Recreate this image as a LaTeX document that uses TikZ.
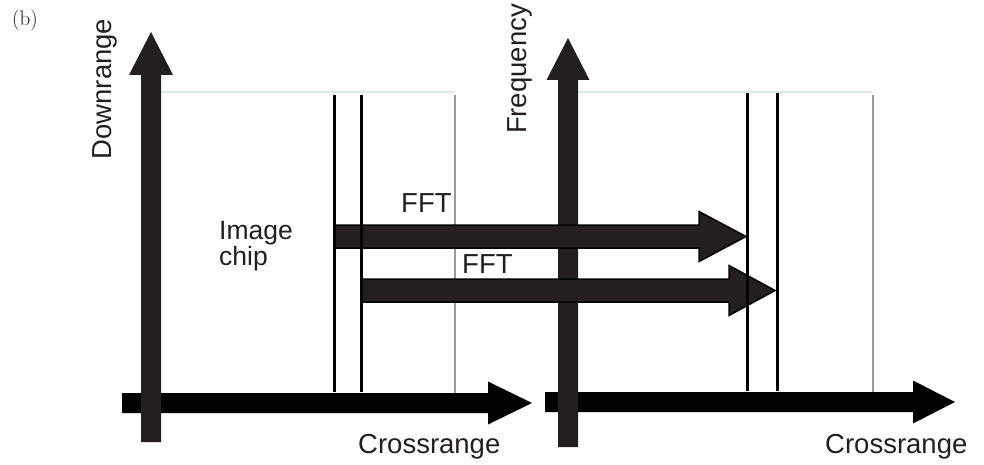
\documentclass[tikz,border=0pt]{standalone}
\usepackage{fontspec}
\newfontfamily\lab{Liberation Sans}
\definecolor{arrowgray}{HTML}{231F20}
\definecolor{edgegreen}{HTML}{DCEBE0}
\definecolor{edgegray}{HTML}{9A9A9A}
\begin{document}
\begin{tikzpicture}[x=1pt,y=-1pt,
  lbl/.style={font=\lab\fontsize{27.5}{24}\selectfont, text=arrowgray, inner sep=0pt},
  vblock/.style={fill=arrowgray, draw=none},
  hblock/.style={fill=black, draw=none},
  fftblock/.style={fill=arrowgray, draw=black, line width=1.5pt, line join=miter},
  topedge/.style={draw=edgegreen, line width=2pt},
  sideedge/.style={draw=edgegray, line width=1.3pt},
  chipline/.style={draw=black, line width=3pt}]
\useasboundingbox (0,0) rectangle (984,465);

% box edges
\coordinate (l-tl) at (161,92.5);
\coordinate (l-tr) at (454,92.5);
\coordinate (l-rt) at (455,95);
\coordinate (l-rb) at (455,393);
\draw[topedge] (l-tl) -- (l-tr);
\draw[sideedge] (l-rt) -- (l-rb);
\coordinate (r-tl) at (578,92.5);
\coordinate (r-tr) at (872,92.5);
\coordinate (r-rt) at (873,95);
\coordinate (r-rb) at (873,392);
\draw[topedge] (r-tl) -- (r-tr);
\draw[sideedge] (r-rt) -- (r-rb);

% bottom crossrange arrows
\fill[hblock] (122,393) -- (488,393) -- (488,381.5) -- (532,403) -- (488,424.5) -- (488,413) -- (122,413) -- cycle;
\fill[hblock] (545,392) -- (913,392) -- (913,380.5) -- (955,402) -- (913,423.5) -- (913,412) -- (545,412) -- cycle;

% vertical arrows
\fill[vblock] (141,442) -- (141,75) -- (129,75) -- (151,32) -- (173,75) -- (161,75) -- (161,442) -- cycle;
\fill[vblock] (558,447) -- (558,80) -- (546.5,80) -- (568,38) -- (589.5,80) -- (578,80) -- (578,447) -- cycle;

% FFT arrows
\filldraw[fftblock] (334,225) -- (699,225) -- (699,211.5) -- (746,236.5) -- (699,261.5) -- (699,248) -- (334,248) -- cycle;
\filldraw[fftblock] (362,279) -- (729,279) -- (729,265.5) -- (775,290.5) -- (729,315.5) -- (729,302) -- (362,302) -- cycle;

% chip lines
\coordinate (c1t) at (334,95);   \coordinate (c1b) at (334,392);
\coordinate (c2t) at (361,95);   \coordinate (c2b) at (361,392);
\coordinate (c3t) at (747,93);   \coordinate (c3b) at (747,391);
\coordinate (c4t) at (777,93);   \coordinate (c4b) at (777,391);
\draw[chipline] (c1t) -- (c1b);
\draw[chipline] (c2t) -- (c2b);
\draw[chipline] (c3t) -- (c3b);
\draw[chipline] (c4t) -- (c4b);

% labels
\node[font=\fontsize{21}{23}\selectfont, text=arrowgray, inner sep=0pt, anchor=base west] (b) at (12,26) {(b)};
\node[lbl, rotate=90] (down) at (104.5,89) {Downrange};
\node[lbl, rotate=90] (freq) at (520,69) {Frequency};
\node[lbl, anchor=base west] (cr1) at (358,453) {Crossrange};
\node[lbl, anchor=base west] (cr2) at (825,453) {Crossrange};
\node[lbl, anchor=base west] (fft1) at (401,212) {FFT};
\node[lbl, anchor=base west] (fft2) at (462,273) {FFT};
\node[lbl, anchor=north west, align=left, font=\lab\fontsize{26.5}{24.5}\selectfont] (chip) at (219,221) {Image\\chip};
\end{tikzpicture}
\end{document}
